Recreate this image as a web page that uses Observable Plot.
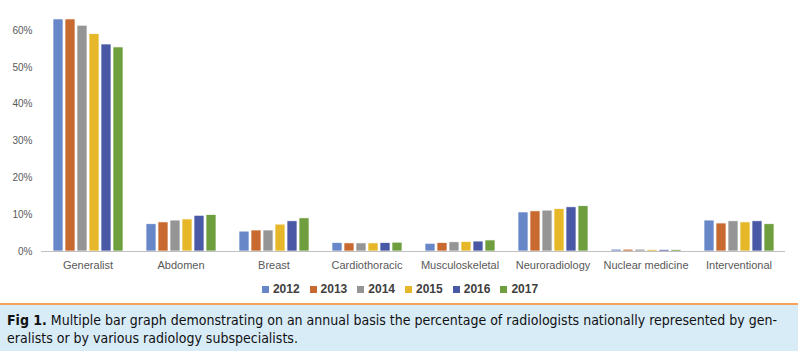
<!DOCTYPE html>
<html>
<head>
<meta charset="utf-8">
<script src="https://cdn.jsdelivr.net/npm/d3@7"></script>
<script src="https://cdn.jsdelivr.net/npm/@observablehq/plot@0.6"></script>
<style>
  html, body { margin: 0; padding: 0; background: #fff; }
  #wrap { position: relative; width: 798px; height: 351px; overflow: hidden; }
  #chart { position: absolute; left: 0; top: 0; }
  #legend { position: absolute; left: 0; width: 800px; top: 282px; display: flex; justify-content: center; gap: 0; font-family: "Liberation Sans", Arial, sans-serif; font-weight: bold; font-size: 12px; color: #404040; }
  #legend .item { display: flex; align-items: center; margin: 0 5px; }
  #legend .sw { width: 7px; height: 7px; margin-right: 4px; }
  #rule { position: absolute; left: 0; top: 303px; width: 798px; height: 2px; background: #f7a25a; }
  #caption { position: absolute; left: 0; top: 305px; width: 798px; height: 46px; background: #d8ecf8; font-family: "Liberation Sans Narrow", "DejaVu Sans Condensed", "Arial Narrow", sans-serif; font-size: 14px; line-height: 18px; color: #111; padding: 6px 0 0 7px; box-sizing: border-box; white-space: nowrap; }
</style>
</head>
<body>
<div id="wrap">
  <div id="chart"></div>
  <div id="legend"></div>
  <div id="rule"></div>
  <div id="caption"><b>Fig 1.</b> Multiple bar graph demonstrating on an annual basis the percentage of radiologists nationally represented by gen-<br>eralists or by various radiology subspecialists.</div>
</div>
<script>
const categories = ["Generalist", "Abdomen", "Breast", "Cardiothoracic", "Musculoskeletal", "Neuroradiology", "Nuclear medicine", "Interventional"];
const years = ["2012", "2013", "2014", "2015", "2016", "2017"];
const colors = ["#6787c8", "#c8692f", "#959595", "#e6b728", "#4a59a5", "#6e9e3e"];
const yTicks = [0, 0.1, 0.2, 0.3, 0.4, 0.5, 0.6];

// percentages per year, in category order
const v2012 = [63.0, 7.4, 5.4, 2.3, 2.1, 10.6, 0.5, 8.4];
const v2013 = [63.0, 7.9, 5.7, 2.2, 2.3, 10.9, 0.5, 7.6];
const v2014 = [61.3, 8.4, 5.7, 2.2, 2.5, 11.1, 0.5, 8.2];
const v2015 = [59.0, 8.7, 7.3, 2.2, 2.6, 11.5, 0.4, 7.9];
const v2016 = [56.2, 9.7, 8.2, 2.3, 2.7, 12.0, 0.4, 8.2];
const v2017 = [55.4, 9.9, 9.0, 2.4, 3.0, 12.3, 0.4, 7.4];

const series = [v2012, v2013, v2014, v2015, v2016, v2017];
const data = [];
categories.forEach((c, i) => {
  years.forEach((y, j) => {
    data.push({category: c, year: y, value: series[j][i] / 100});
  });
});

const chart = Plot.plot({
  width: 798,
  height: 278,
  marginLeft: 39,
  marginRight: 11,
  marginTop: 30,
  marginBottom: 27,
  style: { fontFamily: "'Liberation Sans', Arial, sans-serif", fontSize: "10px", color: "#595959", background: "transparent" },
  fx: { domain: categories, padding: 0, label: null, tickSize: 0, tickPadding: 10, axis: "bottom" },
  x: { domain: years, axis: null, paddingInner: 0.17, paddingOuter: 0.8 },
  y: { domain: [0, 0.6], ticks: yTicks, tickFormat: d3.format(".0%"), tickSize: 0, tickPadding: 9, label: null },
  color: { domain: years, range: colors },
  marks: [
    Plot.barY(data, { fx: "category", x: "year", y: "value", fill: "year", stroke: "white", strokeWidth: 0.7 }),
    Plot.ruleY([0], { stroke: "#bfbfbf", strokeWidth: 1 })
  ]
});
chart.querySelectorAll('[aria-label^="fx-axis"] text').forEach(t => { t.setAttribute("font-size", "11px"); t.style.fontSize = "11px"; });
document.getElementById("chart").appendChild(chart);

const legend = document.getElementById("legend");
years.forEach((y, i) => {
  const item = document.createElement("div");
  item.className = "item";
  const sw = document.createElement("div");
  sw.className = "sw";
  sw.style.background = colors[i];
  const lab = document.createElement("span");
  lab.textContent = y;
  item.appendChild(sw);
  item.appendChild(lab);
  legend.appendChild(item);
});
</script>
</body>
</html>
